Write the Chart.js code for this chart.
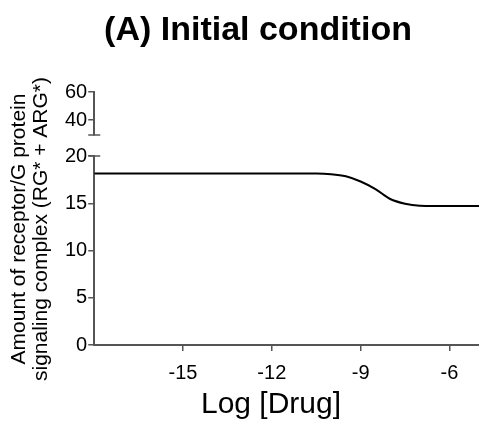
<!DOCTYPE html>
<html>
<head>
<meta charset="utf-8">
<script src="https://cdn.jsdelivr.net/npm/chart.js@4"></script>
<style>
  html, body { margin: 0; padding: 0; background: #fff; }
  #wrap { width: 479px; height: 421px; }
</style>
</head>
<body>
<div id="wrap"><canvas id="chart" width="479" height="421"></canvas></div>
<script>
// curve: log[drug] vs amount of RG* + ARG*
const logDrug = [-18, -10.5, -10, -9.5, -9, -8.5, -8, -7.5, -7, -6.5, -5];
const signaling = [18.15, 18.15, 18.08, 17.85, 17.3, 16.5, 15.45, 14.95, 14.73, 14.7, 14.7];

const xTicks = [-15, -12, -9, -6];
const yTicksLow = [0, 5, 10, 15, 20];
const yTicksHigh = [40, 60];

const titleText = "(A) Initial condition";
const yTitleLines = ["Amount of receptor/G protein", "signaling complex (RG* + ARG*)"];
const xTitleText = "Log [Drug]";

const axisColor = "#555";
const font = "'Liberation Sans', Arial, sans-serif";

const textPlugin = {
  id: "texts",
  afterDraw(chart) {
    const ctx = chart.ctx;
    const area = chart.chartArea;
    ctx.save();
    ctx.fillStyle = "#000";
    // title
    ctx.font = "bold 34px " + font;
    ctx.textAlign = "center";
    ctx.textBaseline = "middle";
    ctx.fillText(titleText, 258, 31);
    // x title
    ctx.font = "30px " + font;
    ctx.textBaseline = "alphabetic";
    ctx.fillText(xTitleText, 271, 413);
    // y title, two rotated lines
    ctx.font = "21px " + font;
    ctx.translate(0, 229);
    ctx.rotate(-Math.PI / 2);
    ctx.fillText(yTitleLines[0], 0, 24.5);
    ctx.fillText(yTitleLines[1], 0, 46.5);
    ctx.restore();

    // caps at the axis break
    ctx.save();
    ctx.strokeStyle = axisColor;
    ctx.lineWidth = 1.5;
    const yTop = chart.scales.y.top;
    const y2Bottom = chart.scales.y2.bottom;
    ctx.beginPath();
    ctx.moveTo(area.left - 6, yTop);
    ctx.lineTo(area.left + 6, yTop);
    ctx.moveTo(area.left - 6, y2Bottom);
    ctx.lineTo(area.left + 6, y2Bottom);
    ctx.stroke();
    ctx.restore();
  }
};

const tickFont = { family: font, size: 20 };

new Chart(document.getElementById("chart"), {
  type: "scatter",
  data: {
    datasets: [{
      data: logDrug.map((x, i) => ({ x: x, y: signaling[i] })),
      showLine: true,
      borderColor: "#000",
      borderWidth: 2,
      pointRadius: 0,
      cubicInterpolationMode: "monotone",
      yAxisID: "y"
    }]
  },
  options: {
    responsive: false,
    animation: false,
    layout: { padding: { top: 92, left: 64, right: 0, bottom: 26 } },
    plugins: {
      legend: { display: false },
      tooltip: { enabled: false }
    },
    scales: {
      x: {
        type: "linear",
        min: -18,
        max: -5,
        afterBuildTicks: s => { s.ticks = xTicks.map(v => ({ value: v })); },
        ticks: { color: "#000", font: tickFont, padding: 10, maxRotation: 0 },
        grid: { drawOnChartArea: false, tickLength: 6, color: axisColor, lineWidth: 1.5 },
        border: { color: axisColor, width: 2 }
      },
      y: {
        type: "linear",
        position: "left",
        stack: "left",
        stackWeight: 189,
        min: 0,
        max: 20,
        afterBuildTicks: s => { s.ticks = yTicksLow.map(v => ({ value: v })); },
        ticks: { color: "#000", font: tickFont, padding: 1, autoSkip: false },
        grid: { drawOnChartArea: false, tickLength: 6, color: axisColor, lineWidth: 1.5 },
        border: { color: axisColor, width: 2 }
      },
      ygap: {
        type: "linear",
        position: "left",
        stack: "left",
        stackWeight: 21,
        min: 0,
        max: 1,
        ticks: { display: false },
        grid: { display: false },
        border: { display: false }
      },
      y2: {
        type: "linear",
        position: "left",
        stack: "left",
        stackWeight: 43,
        min: 29.3,
        max: 60,
        afterBuildTicks: s => { s.ticks = yTicksHigh.map(v => ({ value: v })); },
        ticks: { color: "#000", font: tickFont, padding: 1, autoSkip: false },
        grid: { drawOnChartArea: false, tickLength: 6, color: axisColor, lineWidth: 1.5 },
        border: { color: axisColor, width: 2 }
      }
    }
  },
  plugins: [textPlugin]
});
</script>
</body>
</html>
